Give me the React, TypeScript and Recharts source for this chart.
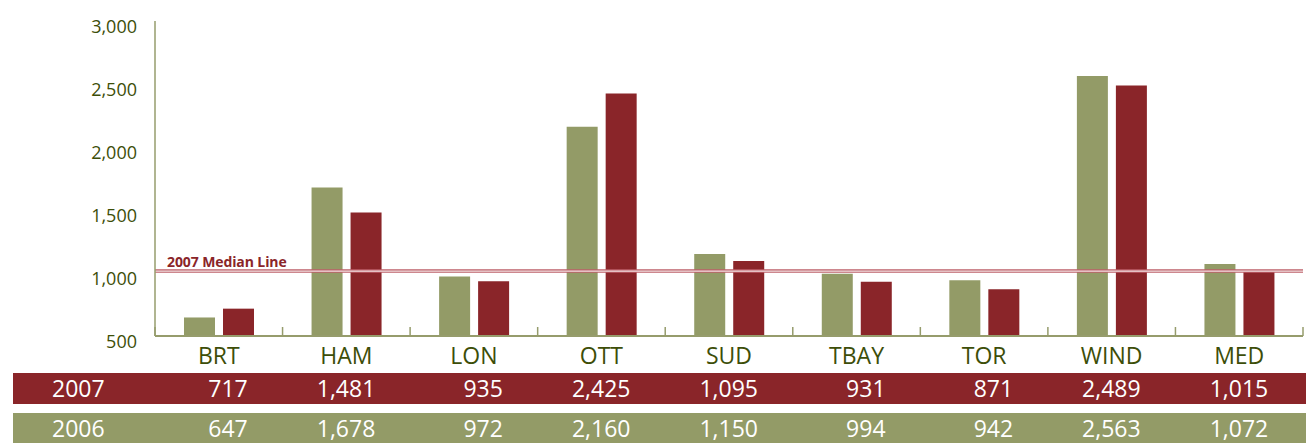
import React from 'react';
import { BarChart, Bar, XAxis, YAxis, ReferenceLine } from 'recharts';

const categories = ['BRT', 'HAM', 'LON', 'OTT', 'SUD', 'TBAY', 'TOR', 'WIND', 'MED'];
const values2007 = [717, 1481, 935, 2425, 1095, 931, 871, 2489, 1015];
const values2006 = [647, 1678, 972, 2160, 1150, 994, 942, 2563, 1072];
const yTicks = [500, 1000, 1500, 2000, 2500, 3000];
const median2007 = 1015;
const medianLabel = '2007 Median Line';

const WIDTH = 1306;
const HEIGHT = 443;
const PLOT_LEFT = 155;
const PLOT_RIGHT = 1303;
const PLOT_TOP = 21;
const PLOT_BOTTOM = 336;
const BAND = (PLOT_RIGHT - PLOT_LEFT) / categories.length;

const GREEN = '#939b67';
const RED = '#8a2529';
const OLIVE = '#3d4e08';
const AXIS = '#969c6c';
const FONT = '"Open Sans", "Noto Sans", sans-serif';

const data = categories.map((name, i) => ({
  name,
  y2007: values2007[i],
  y2006: values2006[i],
}));

const fmt = (v: number) => v.toLocaleString('en-US');

const YTick = ({ x, y, payload }: any) => (
  <text x={x} y={y + 5} textAnchor="end" dominantBaseline="central" fill={OLIVE} fontSize={18} fontFamily={FONT}>
    {fmt(payload.value)}
  </text>
);

// category label + table values + boundary tick marks
const TableTick = ({ x, y, index }: any) => {
  const half = BAND / 2;
  const last = index === categories.length - 1;
  return (
    <g>
      <line x1={x - half} x2={x - half} y1={y - 9} y2={y} stroke={AXIS} strokeWidth={1.5} />
      {last && <line x1={x + half} x2={x + half} y1={y - 9} y2={y} stroke={AXIS} strokeWidth={1.5} />}
      <text x={x} y={y + 28} textAnchor="middle" fill={OLIVE} fontSize={23} fontFamily={FONT}>
        {categories[index]}
      </text>
      <text x={x + 29} y={y + 61} textAnchor="end" fill="#fff" fontSize={23} fontFamily={FONT}>
        {fmt(values2007[index])}
      </text>
      <text x={x + 29} y={y + 101} textAnchor="end" fill="#fff" fontSize={23} fontFamily={FONT}>
        {fmt(values2006[index])}
      </text>
    </g>
  );
};

const MedianLabel = ({ viewBox }: any) => (
  <text x={viewBox.x + 12} y={viewBox.y - 4} fill={RED} fontSize={14} fontWeight="bold" letterSpacing={-0.1} fontFamily={FONT}>
    {medianLabel}
  </text>
);

const band = (top: number, height: number, color: string, label: string) => (
  <div
    style={{
      position: 'absolute',
      left: 13,
      top,
      width: WIDTH - 13,
      height,
      background: color,
      color: '#fff',
      fontFamily: FONT,
      fontSize: 23,
      lineHeight: `${height}px`,
      paddingLeft: 39,
      boxSizing: 'border-box',
    }}
  >
    {label}
  </div>
);

export default function App() {
  return (
    <div style={{ position: 'absolute', left: 0, top: 0, width: WIDTH, height: HEIGHT, background: '#fff', overflow: 'hidden' }}>
      {band(373, 31, RED, '2007')}
      {band(413, 31, GREEN, '2006')}
      <div style={{ position: 'relative', zIndex: 1 }}>
        <BarChart
          width={WIDTH}
          height={HEIGHT}
          data={data}
          margin={{ top: PLOT_TOP, right: WIDTH - PLOT_RIGHT, left: 0, bottom: 0 }}
          barSize={31}
          barGap={8}
        >
          <XAxis
            dataKey="name"
            height={HEIGHT - PLOT_BOTTOM}
            tickLine={false}
            tickSize={0}
            tickMargin={0}
            interval={0}
            axisLine={{ stroke: AXIS, strokeWidth: 2 }}
            tick={<TableTick />}
          />
          <YAxis
            width={PLOT_LEFT}
            domain={[500, 3000]}
            ticks={yTicks}
            allowDataOverflow
            tickLine={false}
            tickSize={0}
            tickMargin={18}
            axisLine={{ stroke: AXIS, strokeWidth: 1.5 }}
            tick={<YTick />}
          />
          <Bar dataKey="y2006" fill={GREEN} isAnimationActive={false} />
          <Bar dataKey="y2007" fill={RED} isAnimationActive={false} />
          <ReferenceLine y={median2007} stroke="#bd5f68" strokeWidth={3.5} label={<MedianLabel />} />
          <ReferenceLine y={median2007} stroke="#fff" strokeWidth={1} />
        </BarChart>
      </div>
    </div>
  );
}
